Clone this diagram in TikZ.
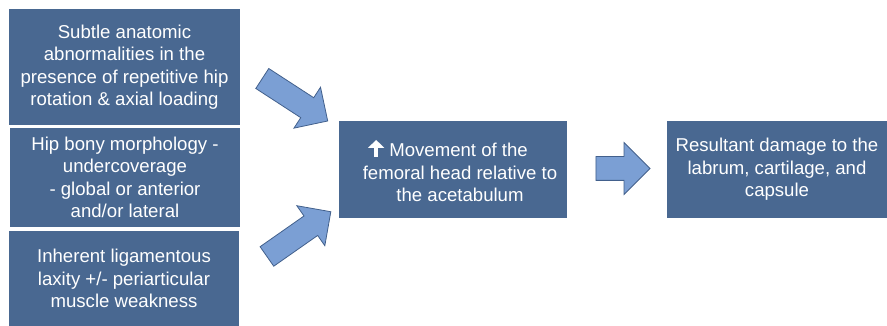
\documentclass[tikz,border=0pt]{standalone}
\usepackage{fontspec}
\setmainfont{Liberation Sans}
\usetikzlibrary{shapes.arrows,arrows.meta}
\definecolor{boxblue}{RGB}{73,104,145}
\definecolor{arrowblue}{RGB}{123,159,212}
\definecolor{arrowline}{RGB}{66,96,140}
\newcommand\uparr{\tikz[baseline=0pt]\draw[white,line width=4.2pt,-{Triangle[length=8pt,width=16pt]}] (0,0) -- (0,17pt);}

\begin{document}
\begin{tikzpicture}[x=1pt,y=-1pt,
  box/.style={fill=boxblue,text=white,inner sep=0pt,align=center,
    font=\fontsize{18.6}{22.5}\selectfont},
  fatarrow/.style={single arrow,draw=arrowline,fill=arrowblue,line width=0.8pt,
    inner xsep=0pt,inner ysep=11.5pt,single arrow tip angle=90}]
\useasboundingbox (0,0) rectangle (887,326);

% causes on the left
\node[box,minimum width=231,minimum height=116] (anat) at (124.5,67)
  {Subtle anatomic\\abnormalities in the\\presence of repetitive hip\\rotation \& axial loading};
\node[box,minimum width=230,minimum height=99] (bony) at (125,177.5)
  {Hip bony morphology -\\undercoverage\\- global or anterior\\and/or lateral};
\node[box,minimum width=230,minimum height=95] (lax) at (124,278.5)
  {Inherent ligamentous\\laxity +/- periarticular\\muscle weakness};

% middle and result
\node[box,minimum width=228,minimum height=97] (move) at (453,169.5) {};
\node[box] (movetxt) at (460,170)
  {\uparr\ Movement of the\hspace*{24pt}\\femoral head relative to\\the acetabulum};
\node[box,minimum width=220,minimum height=97] (dmg) at (777,169.5)
  {Resultant damage to the\\labrum, cartilage, and\\capsule};

% block arrows
\node[fatarrow,minimum height=78,single arrow head extend=12.5,rotate=-33] (a1) at (290,96.5) {};
\node[fatarrow,minimum height=78,single arrow head extend=12.5,rotate=35] (a2) at (294,237.5) {};
\node[fatarrow,minimum height=54,single arrow head extend=14] (a3) at (617,168.5) {};

\end{tikzpicture}
\end{document}
